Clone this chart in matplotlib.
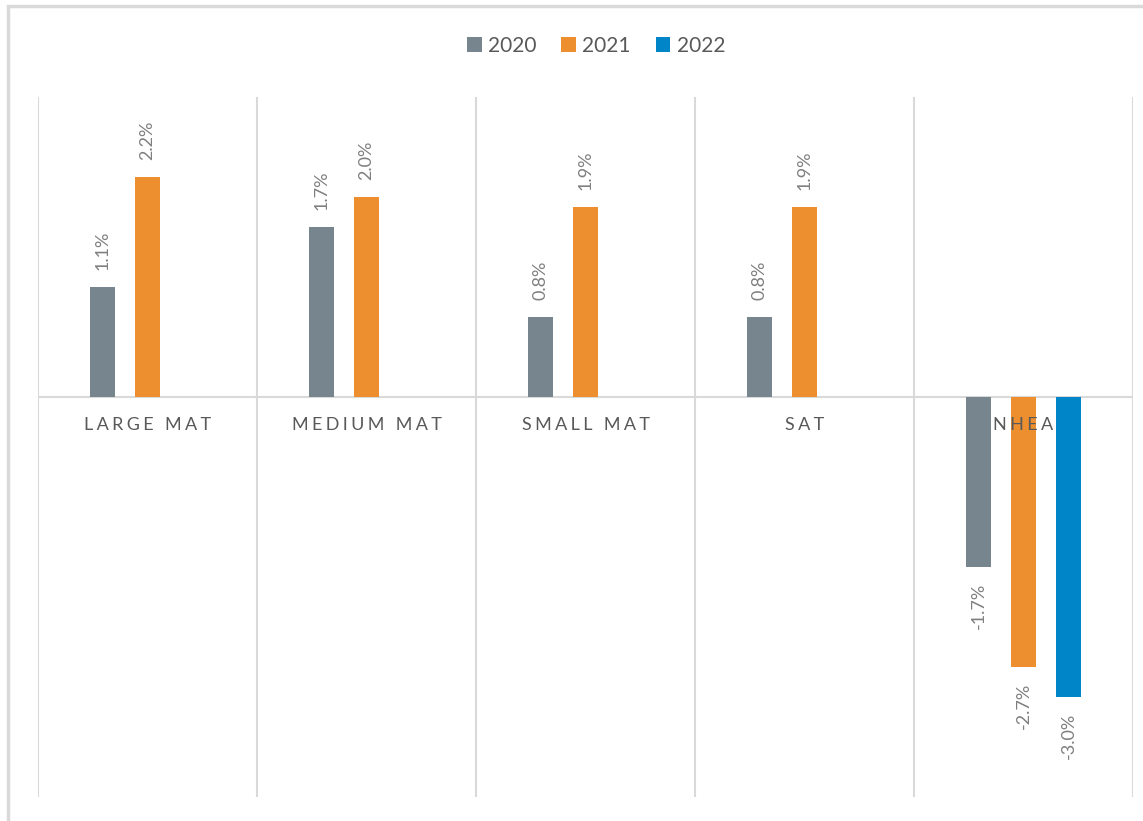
import matplotlib
matplotlib.use("Agg")
import matplotlib.pyplot as plt
from matplotlib.patches import Patch, Rectangle
import numpy as np

plt.rcParams['font.family'] = ['Lato', 'DejaVu Sans']

categories = ["LARGE MAT", "MEDIUM MAT", "SMALL MAT", "SAT", "NHEA"]
years = ["2020", "2021", "2022"]
values = {
    "2020": [1.1, 1.7, 0.8, 0.8, -1.7],
    "2021": [2.2, 2.0, 1.9, 1.9, -2.7],
    "2022": [None, None, None, None, -3.0],
}
colors = {"2020": "#77858F", "2021": "#EE8F2F", "2022": "#0086C8"}

fig = plt.figure(figsize=(11.43, 8.21), dpi=100)
ax = fig.add_axes([38 / 1143, 24 / 821, 1095 / 1143, 700 / 821])

# outer frame (only top and left edges visible in the reference)
fig.patches.append(Rectangle((8 / 1143, -0.1), 1.2, (815 / 821) + 0.1,
                             transform=fig.transFigure, fill=False,
                             edgecolor="#D9D9D9", linewidth=2.5))

x = np.arange(len(categories))
offset = 0.2055
width = 0.11
for i, yr in enumerate(years):
    for xi, v in zip(x, values[yr]):
        if v is None:
            continue
        xp = xi + (i - 1) * offset
        ax.bar(xp, v, width=width, color=colors[yr], zorder=3)
        if v >= 0:
            ax.annotate(f"{v:.1f}%", (xp, v), xytext=(0, 12), textcoords="offset points",
                        rotation=90, ha="center", va="bottom", fontsize=13, color="#7F7F7F")
        else:
            ax.annotate(f"{v:.1f}%", (xp, v), xytext=(0, -11), textcoords="offset points",
                        rotation=90, ha="center", va="top", fontsize=13, color="#7F7F7F")

ax.set_xlim(-0.5, len(categories) - 0.5)
ax.set_ylim(-4, 3)
for b in np.arange(-0.5, len(categories), 1.0):
    ax.axvline(b, color="#D9D9D9", linewidth=1.5, zorder=1)
ax.axhline(0, color="#D9D9D9", linewidth=1.5, zorder=2)

for xi, c in zip(x, categories):
    spaced = "\u2009\u200a".join(c)
    ax.text(xi, -0.2, spaced, ha="center", va="top", fontsize=13, color="#595959", zorder=4)

ax.set_xticks([])
ax.set_yticks([])
for s in ax.spines.values():
    s.set_visible(False)

handles = [Patch(facecolor=colors[y], label=y) for y in years]
fig.legend(handles=handles, loc="center", bbox_to_anchor=(596 / 1143, 1 - 46 / 821),
           ncol=3, frameon=False, fontsize=15, handlelength=0.7, handleheight=0.7,
           handletextpad=0.3, columnspacing=1.2, labelcolor="#595959")

fig.savefig("out.png", dpi=100)
